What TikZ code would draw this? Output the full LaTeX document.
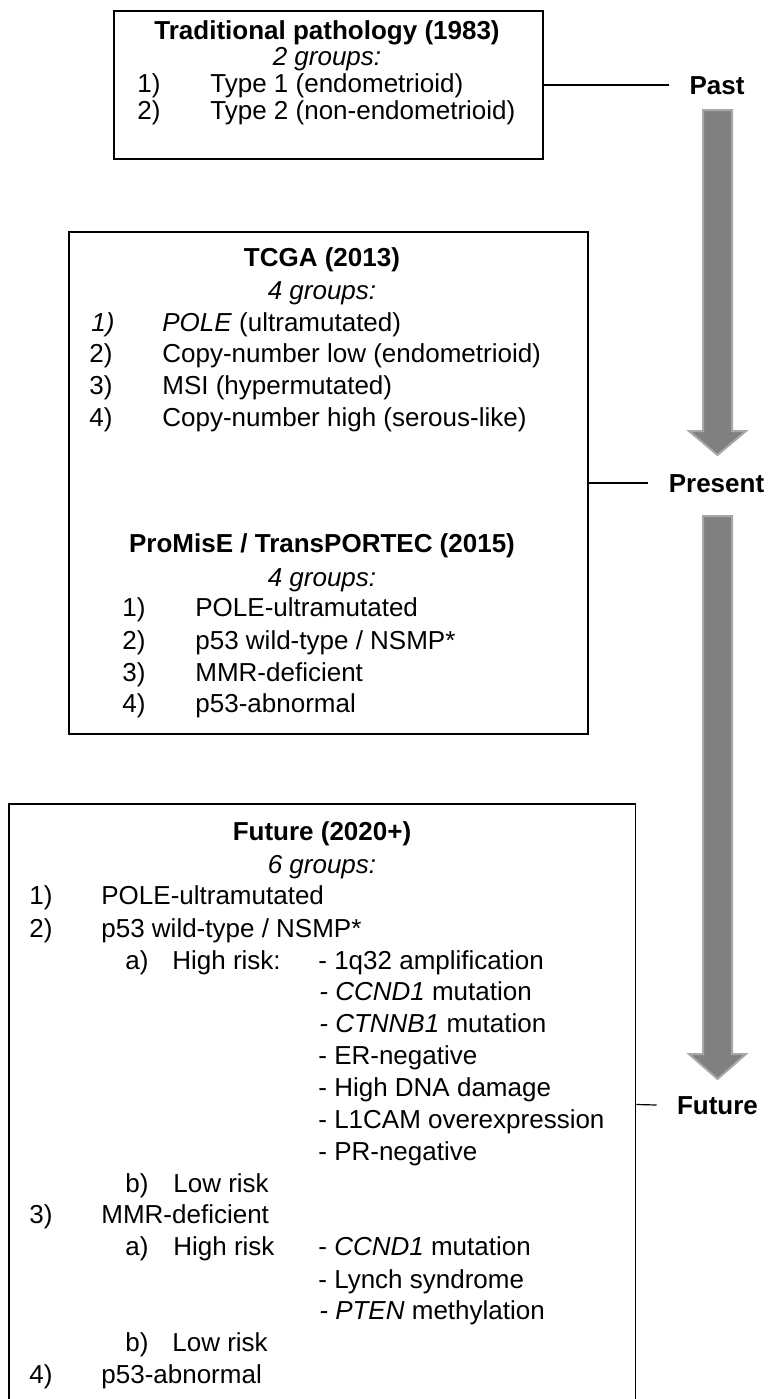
\documentclass[tikz,border=0pt]{standalone}
\usepackage{fontspec}
\setmainfont{Liberation Sans}
\begin{document}
\begin{tikzpicture}[x=0.5pt,y=-0.5pt,
  box/.style={draw=black,line width=0.8pt,inner sep=0pt,minimum width=#1},
  txt/.style={inner sep=0pt,anchor=west,font=\fontsize{13}{15}\selectfont,text height=9.3pt,text depth=0pt},
  ctr/.style={inner sep=0pt,anchor=center,font=\fontsize{13}{15}\selectfont,text height=9.3pt,text depth=0pt},
  ttl/.style={ctr,font=\fontsize{13}{15}\selectfont\bfseries},
  grp/.style={ctr,font=\fontsize{13}{15}\selectfont\itshape},
  lab/.style={inner xsep=10pt,inner ysep=0pt,font=\fontsize{13}{15}\selectfont\bfseries,text height=9.3pt,text depth=0pt},
  tick/.style={draw=black,line width=0.6pt},
  tarrow/.style={fill={rgb,255:red,128;green,128;blue,128},draw={rgb,255:red,168;green,168;blue,168},line width=1pt}]
\useasboundingbox (0,0) rectangle (769,1399);
% boxes
\node[box=214.5pt,minimum height=74pt] (b1) at (328.5,85) {};
\node[box=259.5pt,minimum height=251pt] (b2) at (328.5,483) {};
\node[box=313.25pt,minimum height=300.5pt] (b3) at (322.25,1104.5) {};
% timeline labels
\node[lab] (past) at (717,85) {Past};
\node[lab] (present) at (716.5,483) {Present};
\node[lab] (future) at (717.5,1105) {Future};
\draw[tick] (b1.east) -- (past.west);
\draw[tick] (b2.east) -- (present.west);
\draw[tick] (b3.east) -- (future.west);
% arrows
\path[tarrow] (703,110) -- (732,110) -- (732,431) -- (746,431) -- (717.5,455) -- (689,431) -- (703,431) -- cycle;
\path[tarrow] (703,516) -- (732,516) -- (732,1054) -- (746,1054) -- (717.5,1079) -- (689,1054) -- (703,1054) -- cycle;
% box 1
\node[ttl] (a0) at (327,30) {Traditional pathology (1983)};
\node[grp] (a1) at (327,56) {2 groups:};
\node[txt] (a2n) at (137,83) {1)};
\node[txt] (a2) at (210,83) {Type 1 (endometrioid)};
\node[txt] (a3n) at (137,110) {2)};
\node[txt] (a3) at (210,110) {Type 2 (non-endometrioid)};
% box 2
\node[ttl] (c0) at (322,257) {TCGA (2013)};
\node[grp] (c1) at (322,290) {4 groups:};
\node[txt] (c2n) at (91,322) {\itshape 1)};
\node[txt] (c2) at (162,322) {\textit{POLE} (ultramutated)};
\node[txt] (c3n) at (89,353) {2)};
\node[txt] (c3) at (162,353) {Copy-number low (endometrioid)};
\node[txt] (c4n) at (89,385) {3)};
\node[txt] (c4) at (162,385) {MSI (hypermutated)};
\node[txt] (c5n) at (89,417) {4)};
\node[txt] (c5) at (162,417) {Copy-number high (serous-like)};
\node[ttl] (d0) at (322,543) {ProMisE / TransPORTEC (2015)};
\node[grp] (d1) at (322,577) {4 groups:};
\node[txt] (d2n) at (122,607) {1)};
\node[txt] (d2) at (195,607) {POLE-ultramutated};
\node[txt] (d3n) at (122,640) {2)};
\node[txt] (d3) at (195,640) {p53 wild-type / NSMP*};
\node[txt] (d4n) at (122,672) {3)};
\node[txt] (d4) at (195,672) {MMR-deficient};
\node[txt] (d5n) at (122,703) {4)};
\node[txt] (d5) at (195,703) {p53-abnormal};
% box 3
\node[ttl] (e0) at (322,831) {Future (2020+)};
\node[grp] (e1) at (322,864) {6 groups:};
\node[txt] (e2n) at (29,895) {1)};
\node[txt] (e2) at (101,895) {POLE-ultramutated};
\node[txt] (e3n) at (29,928) {2)};
\node[txt] (e3) at (101,928) {p53 wild-type / NSMP*};
\node[txt] (e4n) at (125,960) {a)};
\node[txt] (e4) at (172,960) {High risk:};
\node[txt] (h1) at (318,960) {- 1q32 amplification};
\node[txt] (h2) at (319,991) {\textit{- CCND1} mutation};
\node[txt] (h3) at (319,1023) {\textit{- CTNNB1} mutation};
\node[txt] (h4) at (318,1055) {- ER-negative};
\node[txt] (h5) at (318,1087) {- High DNA damage};
\node[txt] (h6) at (318,1119) {- L1CAM overexpression};
\node[txt] (h7) at (318,1151) {- PR-negative};
\node[txt] (e5n) at (125,1183) {b)};
\node[txt] (e5) at (173,1183) {Low risk};
\node[txt] (e6n) at (29,1214) {3)};
\node[txt] (e6) at (101,1214) {MMR-deficient};
\node[txt] (e7n) at (125,1246) {a)};
\node[txt] (e7) at (173,1246) {High risk};
\node[txt] (k1) at (318,1246) {- \textit{CCND1} mutation};
\node[txt] (k2) at (318,1279) {- Lynch syndrome};
\node[txt] (k3) at (319,1310) {\textit{- PTEN} methylation};
\node[txt] (e8n) at (125,1342) {b)};
\node[txt] (e8) at (172,1342) {Low risk};
\node[txt] (e9n) at (29,1374) {4)};
\node[txt] (e9) at (101,1374) {p53-abnormal};
\end{tikzpicture}
\end{document}
